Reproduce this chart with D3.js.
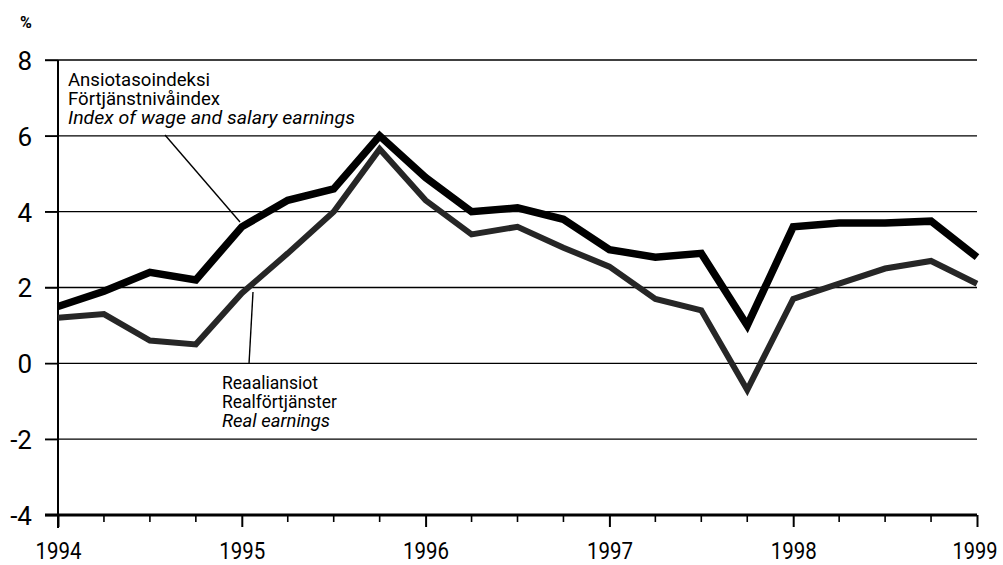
<!DOCTYPE html>
<html><head><meta charset="utf-8">
<script src="https://cdn.jsdelivr.net/npm/d3@7"></script>
<style>body{margin:0;background:#fff}svg{display:block}</style>
</head><body>
<svg id="c" width="1003" height="565"></svg>
<script>
const quarters = [1994,1994.25,1994.5,1994.75,1995,1995.25,1995.5,1995.75,1996,1996.25,1996.5,1996.75,1997,1997.25,1997.5,1997.75,1998,1998.25,1998.5,1998.75,1999];
const wageIndex = [1.5,1.9,2.4,2.2,3.6,4.3,4.6,6.0,4.9,4.0,4.1,3.8,3.0,2.8,2.9,1.0,3.6,3.7,3.7,3.75,2.8];
const realEarnings = [1.2,1.3,0.6,0.5,1.85,2.9,4.0,5.65,4.3,3.4,3.6,3.05,2.55,1.7,1.4,-0.7,1.7,2.1,2.5,2.7,2.1];
const yTicks = [-4,-2,0,2,4,6,8];
const yearTicks = [1994,1995,1996,1997,1998,1999];
const wageLabel = ["Ansiotasoindeksi","Förtjänstnivåindex","Index of wage and salary earnings"];
const realLabel = ["Reaaliansiot","Realförtjänster","Real earnings"];

const font = "Roboto,'Liberation Sans',sans-serif";
const svg = d3.select("#c");
const x = d3.scaleLinear().domain([1994,1999]).range([58,977]);
const y = d3.scaleLinear().domain([-4,8]).range([515,60]);

// gridlines
svg.append("g").selectAll("line").data(yTicks.filter(d=>d>-4)).join("line")
  .attr("x1",45).attr("x2",x(1999)).attr("y1",d=>y(d)).attr("y2",d=>y(d))
  .attr("stroke","#000").attr("stroke-width",1.4);

// y axis
const ya = svg.append("g").attr("transform",`translate(${x(1994)},0)`)
  .call(d3.axisLeft(y).tickValues(yTicks).tickSize(13).tickPadding(13).tickFormat(d=>String(d)));
ya.select(".domain").attr("stroke-width",2).attr("d",`M0,${y(8)}V${y(-4)+13}`);
ya.selectAll(".tick line").attr("stroke-width",1.4);
ya.selectAll("text").attr("font-family",font).attr("font-size",26).attr("fill","#000")
  .attr("dy","0.36em");

// x axis
const xa = svg.append("g").attr("transform",`translate(0,${y(-4)})`)
  .call(d3.axisBottom(x).tickValues(yearTicks).tickSize(12).tickPadding(16).tickFormat(d=>String(d)));
xa.select(".domain").attr("stroke-width",3).attr("d",`M45,0H${x(1999)}`);
xa.selectAll(".tick line").attr("stroke-width",2);
xa.selectAll("text").attr("font-family",font).attr("font-size",24).attr("fill","#000")
  .attr("dy",null).attr("y",44)
  .attr("textLength",46).attr("lengthAdjust","spacingAndGlyphs");
xa.selectAll(".tick text").filter(d=>d===1999).attr("text-anchor","end").attr("x",20).attr("textLength",45);
svg.append("g").attr("transform",`translate(0,${y(-4)})`).selectAll("line")
  .data(quarters.filter(q=>q%1!==0)).join("line")
  .attr("x1",d=>x(d)).attr("x2",d=>x(d)).attr("y1",0).attr("y2",7)
  .attr("stroke","#000").attr("stroke-width",1.6);

// % label
svg.append("text").attr("x",20).attr("y",28).text("%")
  .attr("font-family",font).attr("font-size",16).attr("font-weight","bold");

// lines
const line = d3.line().x((d,i)=>x(quarters[i])).y(d=>y(d));
svg.append("path").datum(realEarnings).attr("d",line).attr("fill","none")
  .attr("stroke","#262626").attr("stroke-width",6).attr("stroke-linejoin","miter");
svg.append("path").datum(wageIndex).attr("d",line).attr("fill","none")
  .attr("stroke","#000").attr("stroke-width",7.5).attr("stroke-linejoin","miter");

// leader lines
svg.append("line").attr("x1",165).attr("y1",135).attr("x2",240).attr("y2",222)
  .attr("stroke","#000").attr("stroke-width",1.4);
svg.append("line").attr("x1",249).attr("y1",364).attr("x2",253).attr("y2",292)
  .attr("stroke","#000").attr("stroke-width",1.4);

// labels
function block(lines, widths, x0, y0){
  const t = svg.append("text").attr("font-family",font).attr("font-size",17.5).attr("fill","#000");
  lines.forEach((s,i)=>{
    t.append("tspan").attr("x",x0).attr("y",y0+i*19).text(s)
     .attr("font-style", i===2?"italic":"normal")
     .attr("textLength",widths[i]).attr("lengthAdjust","spacingAndGlyphs");
  });
}
block(wageLabel,[142,152,287],68,86);
block(realLabel,[96,115,108],222,389);
</script>
</body></html>
